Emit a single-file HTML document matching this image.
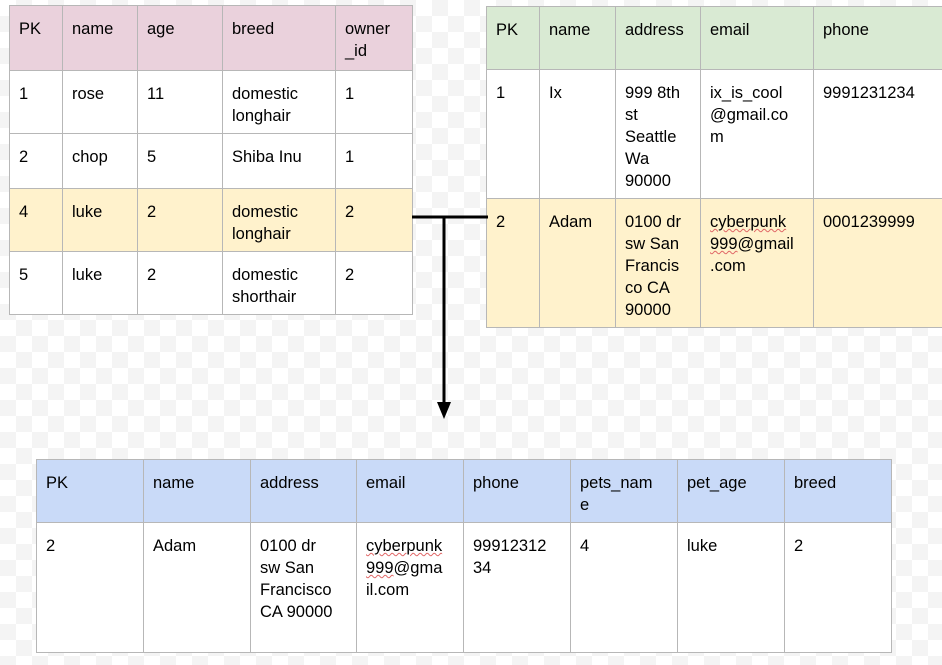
<!DOCTYPE html>
<html><head><meta charset="utf-8"><style>
body{margin:0;width:942px;height:665px;overflow:hidden;position:relative;font-family:"Liberation Sans",Arial,sans-serif;
background-color:#fff;background-image:linear-gradient(45deg,#f4f4f4 25%,transparent 25%,transparent 75%,#f4f4f4 75%),linear-gradient(45deg,#f4f4f4 25%,transparent 25%,transparent 75%,#f4f4f4 75%);background-size:32px 32px;background-position:0 0,16px 16px}
table{position:absolute;border-collapse:collapse;table-layout:fixed;background:#fff}
td{border:1px solid #b7b7b7;vertical-align:top;padding:12px 4px 0 9px;font-size:16.5px;line-height:22px;color:#000;box-sizing:border-box;white-space:nowrap;overflow:hidden}
.p td{background:#ead1dc}.g td{background:#d9ead3}.y td{background:#fff2cc}.b td{background:#c9daf8}
.sq{text-decoration:underline wavy #e06666;text-decoration-thickness:1px}
</style></head><body>
<table style="left:9px;top:5px;width:403px">
<colgroup><col style="width:53px"><col style="width:75px"><col style="width:85px"><col style="width:113px"><col style="width:77px"></colgroup>
<tr class="p" style="height:65px"><td>PK</td><td>name</td><td>age</td><td>breed</td><td>owner<br>_id</td></tr>
<tr style="height:63px"><td>1</td><td>rose</td><td>11</td><td>domestic<br>longhair</td><td>1</td></tr>
<tr style="height:55px"><td>2</td><td>chop</td><td>5</td><td>Shiba Inu</td><td>1</td></tr>
<tr class="y" style="height:63px"><td>4</td><td>luke</td><td>2</td><td>domestic<br>longhair</td><td>2</td></tr>
<tr style="height:63px"><td>5</td><td>luke</td><td>2</td><td>domestic<br>shorthair</td><td>2</td></tr>
</table>
<table style="left:486px;top:6px;width:458px">
<colgroup><col style="width:53px"><col style="width:76px"><col style="width:85px"><col style="width:113px"><col style="width:131px"></colgroup>
<tr class="g" style="height:63px"><td>PK</td><td>name</td><td>address</td><td>email</td><td>phone</td></tr>
<tr style="height:129px"><td>1</td><td>Ix</td><td>999 8th<br>st<br>Seattle<br>Wa<br>90000</td><td>ix_is_cool<br>@gmail.co<br>m</td><td>9991231234</td></tr>
<tr class="y" style="height:129px"><td>2</td><td>Adam</td><td>0100 dr<br>sw San<br>Francis<br>co CA<br>90000</td><td><span class="sq">cyberpunk</span><br><span class="sq">999</span>@gmail<br>.com</td><td>0001239999</td></tr>
</table>
<table style="left:36px;top:459px;width:855px">
<colgroup><col style="width:107px"><col style="width:107px"><col style="width:106px"><col style="width:107px"><col style="width:107px"><col style="width:107px"><col style="width:107px"><col style="width:107px"></colgroup>
<tr class="b" style="height:63px"><td>PK</td><td>name</td><td>address</td><td>email</td><td>phone</td><td>pets_nam<br>e</td><td>pet_age</td><td>breed</td></tr>
<tr style="height:130px"><td>2</td><td>Adam</td><td>0100 dr<br>sw San<br>Francisco<br>CA 90000</td><td><span class="sq">cyberpunk</span><br><span class="sq">999</span>@gma<br>il.com</td><td>99912312<br>34</td><td>4</td><td>luke</td><td>2</td></tr>
</table>
<svg style="position:absolute;left:0;top:0" width="942" height="665">
<line x1="412" y1="217" x2="488" y2="217" stroke="#000" stroke-width="3"/>
<line x1="444" y1="217" x2="444" y2="404" stroke="#000" stroke-width="3"/>
<polygon points="437,402 451,402 444,419" fill="#000"/>
</svg>
</body></html>
